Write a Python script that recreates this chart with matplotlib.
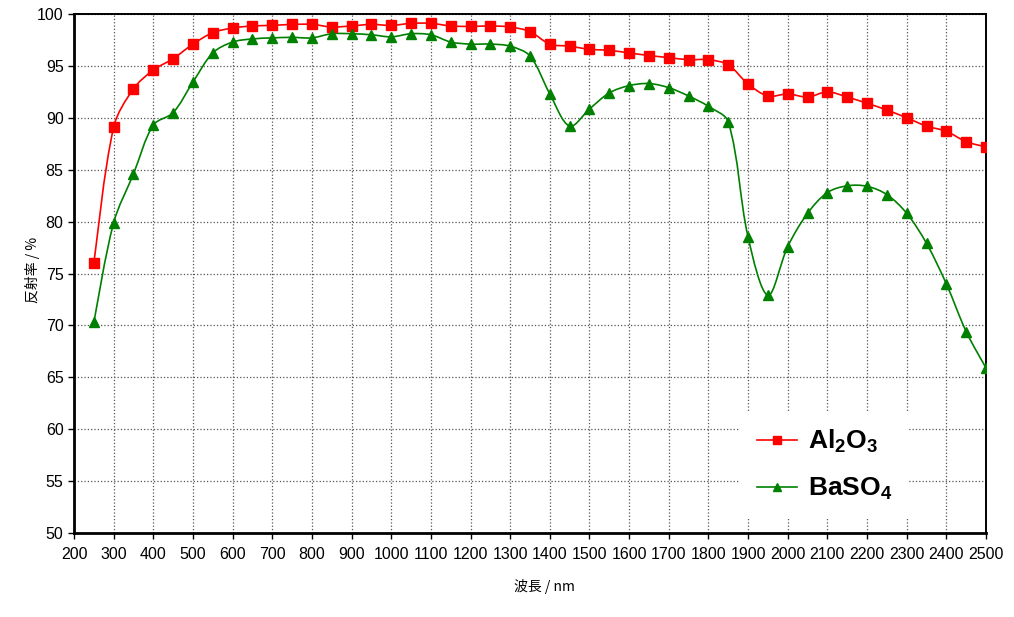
import numpy as np
import matplotlib
matplotlib.use('Agg')
import matplotlib.pyplot as plt
from matplotlib.path import Path
from matplotlib.patches import PathPatch, Rectangle
from matplotlib.lines import Line2D

plt.rcParams['font.family'] = ['Liberation Sans', 'Noto Sans CJK JP', 'DejaVu Sans']
plt.rcParams['mathtext.fontset'] = 'custom'
plt.rcParams['mathtext.rm'] = 'Liberation Sans'
plt.rcParams['mathtext.bf'] = 'Liberation Sans:bold'

# wavelength, nm
wavelength = list(range(250, 2501, 50))

al2o3 = [76.0, 89.1, 92.8, 94.6, 95.7, 97.1, 98.2, 98.65, 98.85, 98.9,
         99.0, 99.0, 98.75, 98.85, 99.0, 98.9, 99.1, 99.1, 98.85, 98.8,
         98.85, 98.75, 98.3, 97.1, 96.9, 96.6, 96.5, 96.25, 96.0, 95.8,
         95.6, 95.6, 95.1, 93.25, 92.1, 92.3, 92.0, 92.5, 92.0, 91.4,
         90.75, 90.0, 89.2, 88.7, 87.7, 87.2]

baso4 = [70.3, 79.9, 84.6, 89.3, 90.5, 93.45, 96.25, 97.3, 97.6, 97.7,
         97.75, 97.7, 98.1, 98.1, 98.0, 97.8, 98.1, 98.0, 97.3, 97.1,
         97.1, 96.9, 95.95, 92.3, 89.2, 90.85, 92.4, 93.1, 93.3, 92.9,
         92.1, 91.1, 89.6, 78.5, 72.9, 77.6, 80.8, 82.8, 83.45, 83.4,
         82.6, 80.8, 77.9, 74.0, 69.4, 65.9]

x_ticks = list(range(200, 2501, 100))
y_ticks = list(range(50, 101, 5))


def smooth_path(xs, ys, sx=0.3965, sy=10.38):
    # excel-like smoothed line: bezier through every point, control arms
    # scaled by chord lengths measured in screen units
    p = np.column_stack([xs, ys]).astype(float)
    s = np.array([sx, sy])
    q = p * s
    pad = np.vstack([q[0], q, q[-1]])
    verts = [p[0]]
    codes = [Path.MOVETO]
    for i in range(len(q) - 1):
        q0, q1, q2, q3 = pad[i], pad[i + 1], pad[i + 2], pad[i + 3]
        d01 = np.hypot(*(q1 - q0))
        d12 = np.hypot(*(q2 - q1))
        d23 = np.hypot(*(q3 - q2))
        f1 = d12 / (d01 + d12) / 3 if d01 > 0 else 1 / 6
        f2 = d12 / (d12 + d23) / 3 if d23 > 0 else 1 / 6
        c1 = q1 + (q2 - q0) * f1
        c2 = q2 - (q3 - q1) * f2
        verts += [c1 / s, c2 / s, q2 / s]
        codes += [Path.CURVE4] * 3
    return Path(verts, codes)


fig = plt.figure(figsize=(10.14, 6.17), dpi=100, facecolor='white')
ax = fig.add_axes([0.0730, 0.1361, 0.8994, 0.8412])

series = [
    (al2o3, '#FF0000', 's', 7.0, r'$\mathbf{Al_2O_3}$'),
    (baso4, '#008000', '^', 7.5, r'$\mathbf{BaSO_4}$'),
]
handles = []
for vals, col, mk, ms, lab in series:
    ax.add_patch(PathPatch(smooth_path(wavelength, vals), fill=False,
                           edgecolor=col, linewidth=1.2, zorder=3))
    ax.plot(wavelength, vals, linestyle='none', marker=mk, markersize=ms,
            color=col, markeredgecolor=col, zorder=4)
    handles.append(Line2D([], [], color=col, linewidth=1.2, marker=mk,
                          markersize=ms * 0.8, label=lab))

ax.set_xlim(200, 2500)
ax.set_ylim(50, 100)
ax.set_xticks(x_ticks)
ax.set_yticks(y_ticks)
ax.tick_params(axis='both', labelsize=11.5, direction='out', length=4, width=1)
ax.tick_params(axis='x', pad=6)
ax.grid(True, linestyle=':', color='#555555', linewidth=0.9)
ax.set_axisbelow(True)

for side in ['left', 'bottom']:
    ax.spines[side].set_linewidth(2.0)
for side in ['top', 'right']:
    ax.spines[side].set_linewidth(1.4)

# legend box covers the grid
ax.add_patch(Rectangle((0.730, 0.031), 0.186, 0.200, transform=ax.transAxes,
                       facecolor='white', edgecolor='none', zorder=2))
leg = ax.legend(handles=handles, loc='center', frameon=False,
                bbox_to_anchor=(0.730, 0.031, 0.186, 0.200),
                fontsize=19, handlelength=1.5, handletextpad=0.4,
                labelspacing=0.8)
leg.set_zorder(5)

fig.text(544 / 1014, 1 - 587 / 617, '波長 / nm', ha='center', va='center',
         fontsize=10, family=['Noto Sans CJK JP', 'DejaVu Sans'])
fig.text(32 / 1014, 1 - 270 / 617, '反射率 / %', ha='center', va='center',
         rotation=90, fontsize=10, family=['Noto Sans CJK JP', 'DejaVu Sans'])

fig.savefig('out.png', dpi=100, facecolor='white')
